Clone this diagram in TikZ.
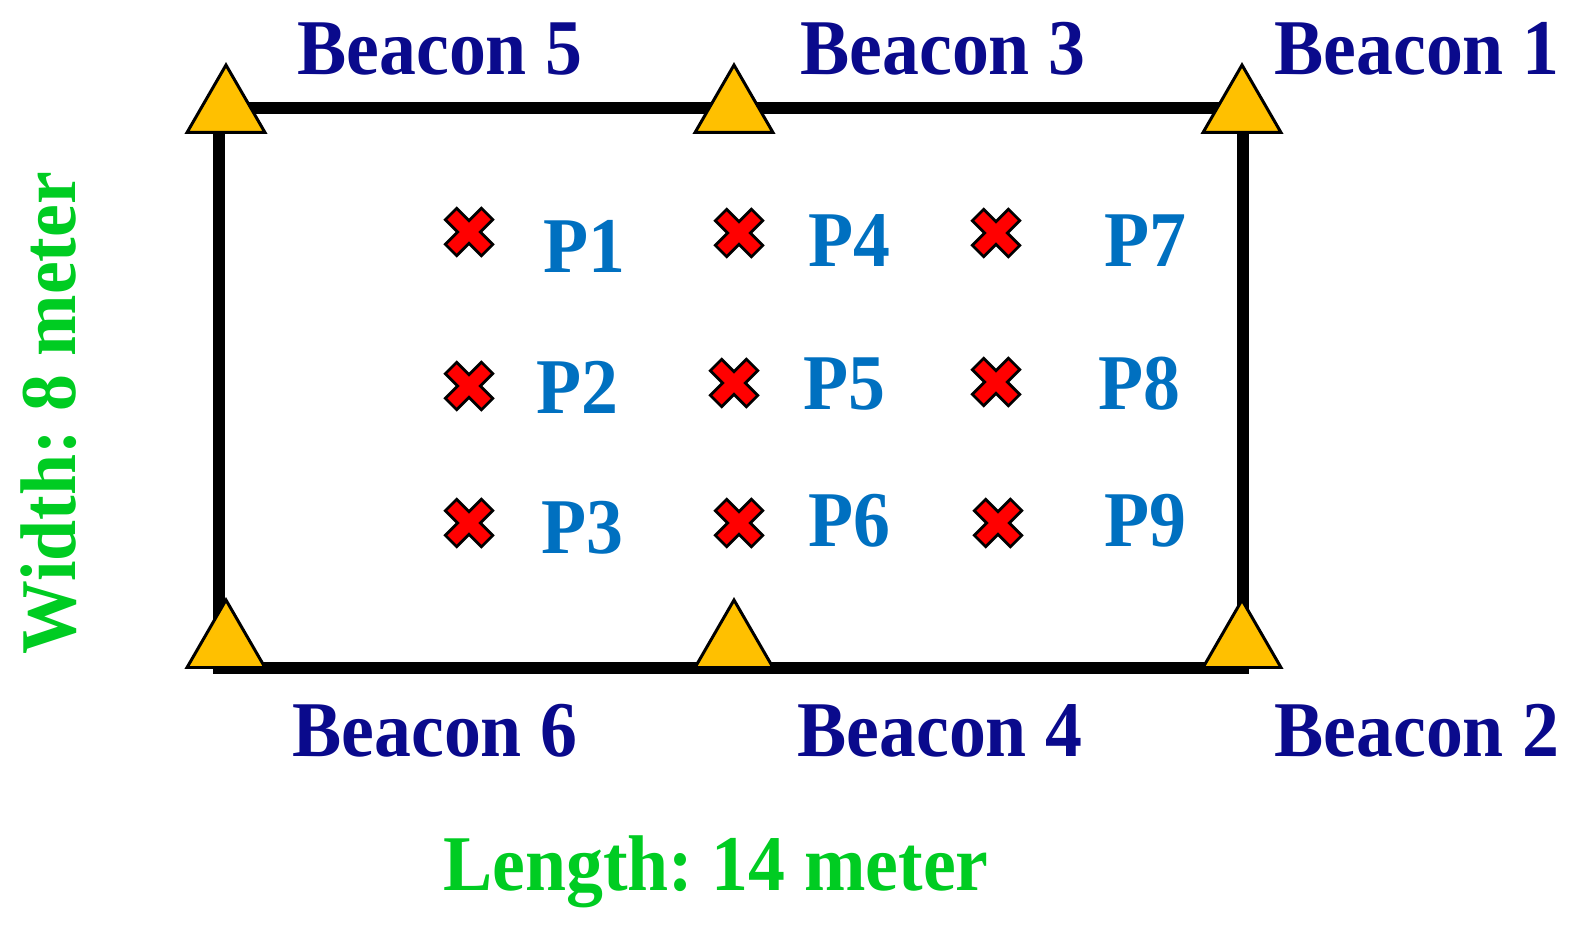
\documentclass[tikz,border=0pt]{standalone}
\usepackage{fontspec}
\setmainfont{Liberation Serif}
\usetikzlibrary{shapes.geometric}
\definecolor{cnavy}{HTML}{0A0A8C}
\definecolor{cblue}{HTML}{0070C0}
\definecolor{cgreen}{HTML}{00CC22}
\definecolor{cred}{HTML}{FF0000}
\definecolor{cyellow}{HTML}{FFC000}
\newcommand{\labelfont}{\fontsize{42}{50}\selectfont\bfseries\frenchspacing}
\tikzset{
  every picture/.style={x=0.02cm, y=-0.02cm},
  beacon/.style={regular polygon, regular polygon sides=3, draw=black, fill=cyellow, line width=1.7pt, inner sep=0pt, minimum size=1.8cm},
  tag/.style={text=#1, font=\labelfont, inner sep=0pt, anchor=base west,
    execute at begin node={\setbox0\hbox\bgroup}, execute at end node={\egroup\scalebox{1}[1.07]{\box0}}},
  tag/.default=cnavy,
  wall/.style={draw=black, line width=6.4pt},
}
\begin{document}
\begin{tikzpicture}
  \useasboundingbox (0,0) rectangle (1577,928);
  \coordinate (nw) at (219,108); \coordinate (se) at (1243,668);
  \draw[wall] (nw) rectangle (se);
  \node[beacon] (b5) at (226,110) {};
  \node[beacon] (b3) at (734,110) {};
  \node[beacon] (b1) at (1242,110) {};
  \node[beacon] (b6) at (226,645) {};
  \node[beacon] (b4) at (734,645) {};
  \node[beacon] (b2) at (1242,645) {};
  \node[tag] (l5) at (297,75) {Beacon 5};
  \node[tag] (l3) at (800,75) {Beacon 3};
  \node[tag] (l1) at (1274,75) {Beacon 1};
  \node[tag] (l6) at (292,756) {Beacon 6};
  \node[tag] (l4) at (797,756) {Beacon 4};
  \node[tag] (l2) at (1274,756) {Beacon 2};
  % test points
  \foreach \n/\px/\py/\tx/\ty in {1/469/232/543/273, 4/739/233/808/267, 7/996/233/1104/267,
      2/469/386/536/414, 5/734/383/803/410, 8/996/382/1098/410,
      3/469/523/541/553, 6/739/523/808/546, 9/998/523/1104/546} {
    \coordinate (x\n) at (\px,\py);
    \draw[shift={(x\n)}, black, line width=0.38cm] (-19,-19) -- (19,19) (-19,19) -- (19,-19);
    \draw[shift={(x\n)}, cred, line width=0.26cm] (-17,-17) -- (17,17) (-17,17) -- (17,-17);
    \node[tag=cblue] (p\n) at (\tx,\ty) {P\n};
  }
  \node[tag=cgreen, rotate=90, anchor=base] (wlab) at (75,413) {Width: 8 meter};
  \node[tag=cgreen, anchor=base] (llab) at (716,890) {Length: 14 meter};
\end{tikzpicture}
\end{document}
